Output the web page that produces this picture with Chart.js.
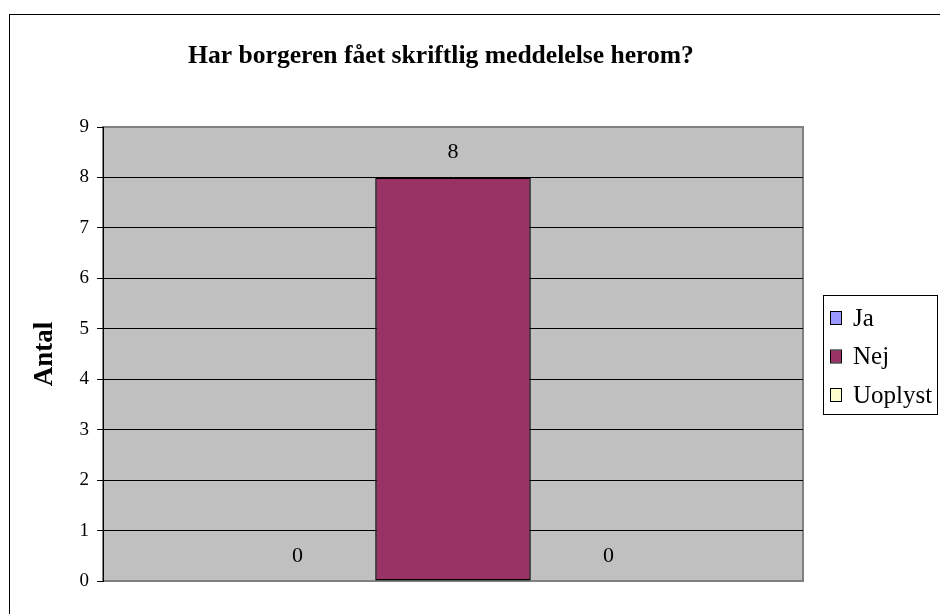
<!DOCTYPE html>
<html>
<head>
<meta charset="utf-8">
<script src="https://cdn.jsdelivr.net/npm/chart.js@4.4.1/dist/chart.umd.min.js"></script>
<style>
  html, body { margin: 0; padding: 0; background: #ffffff; }
  #wrap { width: 940px; height: 614px; position: relative; }
</style>
</head>
<body>
<div id="wrap"><canvas id="c" width="940" height="614"></canvas></div>
<script>
const chartTitle = 'Har borgeren fået skriftlig meddelelse herom?';
const yAxisTitle = 'Antal';
const categories = [''];
const seriesNames = ['Ja', 'Nej', 'Uoplyst'];
const seriesValues = [[0], [8], [0]];
const seriesColors = ['#9999FF', '#993366', '#FFFFCC'];
const yTicks = [0, 1, 2, 3, 4, 5, 6, 7, 8, 9];

const SERIF = '"Liberation Serif", "Times New Roman", serif';

const frameAndBg = {
  id: 'frameAndBg',
  beforeDraw(chart) {
    const ctx = chart.ctx, a = chart.chartArea;
    ctx.save();
    ctx.fillStyle = '#fff';
    ctx.fillRect(0, 0, chart.width, chart.height);
    // outer chart frame (extends beyond right/bottom edges)
    ctx.strokeStyle = '#000';
    ctx.lineWidth = 1;
    ctx.strokeRect(9.5, 14.5, 1000, 700);
    // plot area
    ctx.fillStyle = '#C0C0C0';
    ctx.fillRect(a.left, a.top, a.right - a.left, a.bottom - a.top);
    ctx.strokeStyle = '#808080';
    ctx.lineWidth = 2;
    ctx.strokeRect(a.left, a.top, a.right - a.left, a.bottom - a.top);
    // title
    ctx.fillStyle = '#000';
    ctx.font = 'bold 25.6px ' + SERIF;
    ctx.textAlign = 'center';
    ctx.textBaseline = 'middle';
    ctx.fillText(chartTitle, 441, 56);
    ctx.restore();
  }
};

const labelsAndLegend = {
  id: 'labelsAndLegend',
  afterDatasetsDraw(chart) {
    const ctx = chart.ctx;
    ctx.save();
    ctx.fillStyle = '#000';
    ctx.font = '22px ' + SERIF;
    ctx.textAlign = 'center';
    ctx.textBaseline = 'alphabetic';
    chart.data.datasets.forEach((ds, i) => {
      const meta = chart.getDatasetMeta(i);
      meta.data.forEach((el, j) => {
        ctx.fillText(String(ds.data[j]), el.x, el.y - 19);
      });
    });
    // legend
    const lx = 823.5, ly = 295.5, lw = 114, lh = 119;
    ctx.fillStyle = '#fff';
    ctx.fillRect(lx, ly, lw, lh);
    ctx.strokeStyle = '#000';
    ctx.lineWidth = 1;
    ctx.strokeRect(lx, ly, lw, lh);
    ctx.font = '25px ' + SERIF;
    ctx.textAlign = 'left';
    ctx.textBaseline = 'middle';
    chart.data.datasets.forEach((ds, i) => {
      const cy = 318 + i * 38.5;
      ctx.fillStyle = ds.backgroundColor;
      ctx.fillRect(831, cy - 6, 10, 12);
      ctx.strokeStyle = '#000';
      ctx.strokeRect(830.5, cy - 6.5, 11, 13);
      ctx.fillStyle = '#000';
      ctx.fillText(ds.label, 853, cy + 1);
    });
    ctx.restore();
  }
};

new Chart(document.getElementById('c'), {
  type: 'bar',
  data: {
    labels: categories,
    datasets: seriesNames.map((n, i) => ({
      label: n,
      data: seriesValues[i],
      backgroundColor: seriesColors[i],
      borderColor: '#000',
      borderWidth: 1.5,
      borderSkipped: false,
      categoryPercentage: 3 / 4.5,
      barPercentage: 1
    }))
  },
  options: {
    responsive: false,
    animation: false,
    layout: { padding: { left: 0, top: 127, right: 137, bottom: 33 } },
    plugins: { legend: { display: false }, title: { display: false }, tooltip: { enabled: false } },
    scales: {
      x: { display: false },
      y: {
        min: 0, max: 9,
        afterFit(scale) { scale.width = 103; },
        afterBuildTicks(scale) { scale.ticks = yTicks.map(v => ({ value: v })); },
        ticks: { color: '#000', font: { family: SERIF, size: 19 }, padding: 8, stepSize: 1 },
        grid: {
          color: (c) => (c.tick && (c.tick.value === 0 || c.tick.value === 9)) ? 'rgba(0,0,0,0)' : '#000',
          tickColor: '#000',
          tickLength: 6,
          lineWidth: 1
        },
        border: { display: true, color: '#000', width: 1 },
        title: {
          display: true, text: yAxisTitle, color: '#000',
          font: { family: SERIF, size: 27, weight: 'bold' },
          padding: { top: 29, bottom: 0 }
        }
      }
    }
  },
  plugins: [frameAndBg, labelsAndLegend]
});
</script>
</body>
</html>
